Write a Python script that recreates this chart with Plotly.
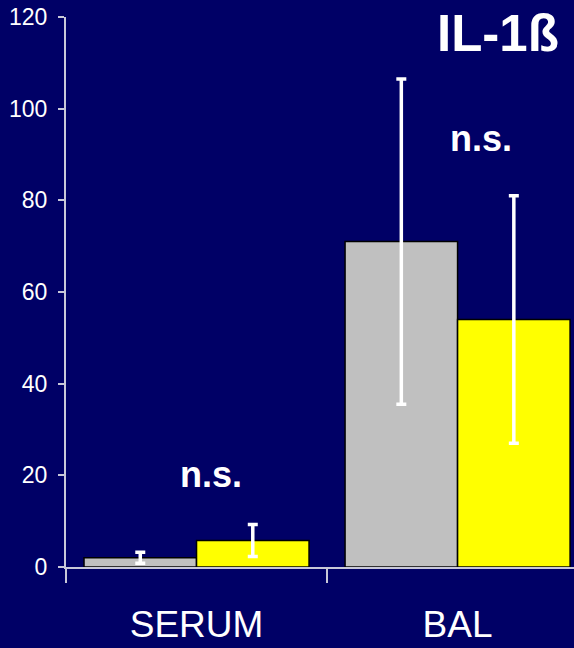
import plotly.graph_objects as go

categories = ["SERUM", "BAL"]
group_a_values = [2.0, 71.0]
group_a_errors = [1.2, 35.5]
group_b_values = [5.8, 54.0]
group_b_errors = [3.5, 27.0]
y_tick_values = [0, 20, 40, 60, 80, 100, 120]

FONT = "Liberation Sans"
BG = "#000066"
AXIS = "#c8c8d8"

fig = go.Figure()
fig.add_trace(go.Bar(
    x=categories, y=group_a_values,
    marker=dict(color="#c0c0c0", line=dict(color="black", width=1.5)),
    error_y=dict(type="data", array=group_a_errors, visible=True,
                 color="white", thickness=3.5, width=5),
    showlegend=False,
))
fig.add_trace(go.Bar(
    x=categories, y=group_b_values,
    marker=dict(color="#ffff00", line=dict(color="black", width=1.5)),
    error_y=dict(type="data", array=group_b_errors, visible=True,
                 color="white", thickness=3.5, width=5),
    showlegend=False,
))

fig.update_layout(
    width=574, height=648,
    margin=dict(l=66, r=0, t=17, b=81),
    paper_bgcolor=BG, plot_bgcolor=BG,
    barmode="group", bargap=0.138, bargroupgap=0,
    font=dict(family=FONT, color="white"),
    xaxis=dict(
        type="category", range=[-0.5, 1.446],
        showgrid=False, zeroline=False,
        showline=True, linecolor=AXIS, linewidth=2,
        ticks="outside", tickson="boundaries", ticklen=14,
        tickcolor=AXIS, tickwidth=2,
        ticklabelstandoff=24,
        tickfont=dict(size=37, color="white", family=FONT),
    ),
    yaxis=dict(
        range=[0, 120], tickvals=y_tick_values,
        showgrid=False, zeroline=False,
        showline=True, linecolor=AXIS, linewidth=2,
        ticks="outside", ticklen=6, tickcolor=AXIS, tickwidth=2,
        ticklabelstandoff=6,
        tickfont=dict(size=23, color="white", family=FONT),
    ),
)

fig.add_annotation(x=1.155, y=116.3, xref="x", yref="y", text="<b>IL-1ß</b>",
                   showarrow=False, font=dict(size=51, color="white", family=FONT))
fig.add_annotation(x=0.056, y=20.1, xref="x", yref="y", text="<b>n.s.</b>",
                   showarrow=False, font=dict(size=36, color="white", family=FONT))
fig.add_annotation(x=1.09, y=93.6, xref="x", yref="y", text="<b>n.s.</b>",
                   showarrow=False, font=dict(size=36, color="white", family=FONT))

fig.write_html("out.html")
